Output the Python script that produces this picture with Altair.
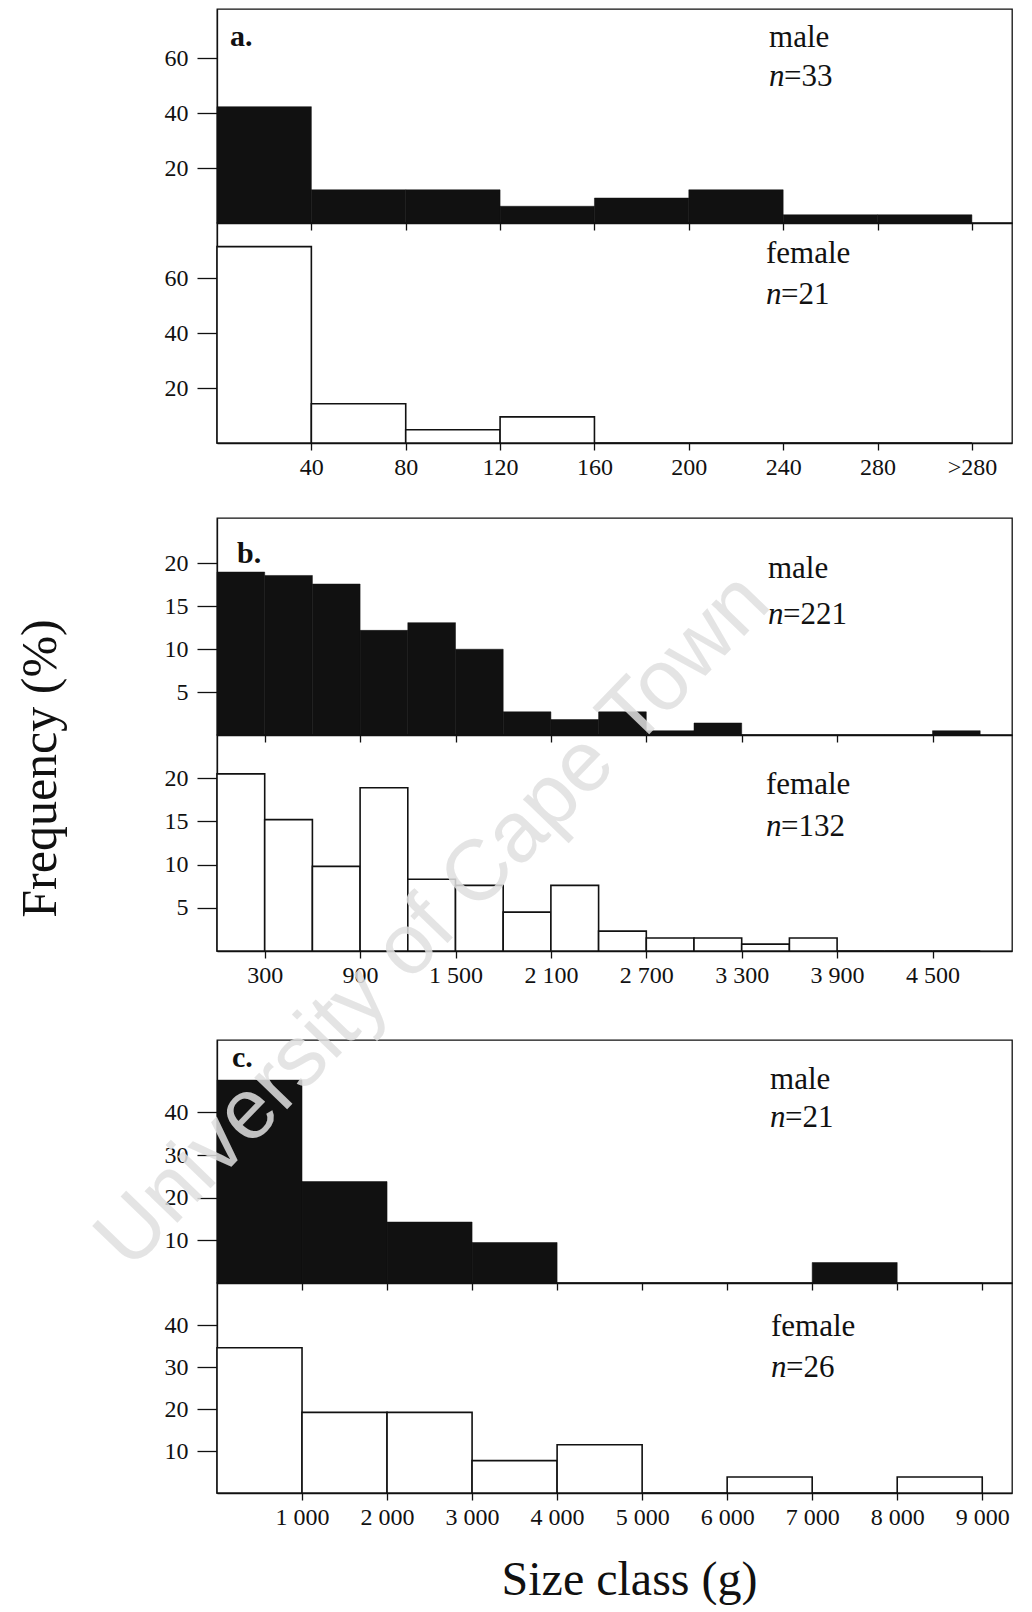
import altair as alt
import pandas as pd

FONT = "Liberation Serif"

# ---------------- data ----------------
# a.
a_edges = [0, 40, 80, 120, 160, 200, 240, 280, 320]
a_male = [42.4, 12.1, 12.1, 6.1, 9.1, 12.1, 3.0, 3.0]
a_female = [71.4, 14.3, 4.8, 9.5, 0, 0, 0, 0]
a_xticks = [40, 80, 120, 160, 200, 240, 280, 320]
a_xlabels = ["40", "80", "120", "160", "200", "240", "280", ">280"]
a_yticks = [20, 40, 60]
a_n = ["33", "21"]

# b.
b_edges = [0, 300, 600, 900, 1200, 1500, 1800, 2100, 2400, 2700, 3000, 3300,
           3600, 3900, 4200, 4500, 4800]
b_male = [19.0, 18.6, 17.6, 12.2, 13.1, 10.0, 2.7, 1.8, 2.7, 0.5, 1.4, 0, 0, 0, 0, 0.5]
b_female = [20.5, 15.2, 9.8, 18.9, 8.3, 7.6, 4.5, 7.6, 2.3, 1.5, 1.5, 0.8, 1.5, 0, 0, 0]
b_xticks = [300, 900, 1500, 2100, 2700, 3300, 3900, 4500]
b_xlabels = ["300", "900", "1 500", "2 100", "2 700", "3 300", "3 900", "4 500"]
b_yticks = [5, 10, 15, 20]
b_n = ["221", "132"]

# c.
c_edges = [0, 1000, 2000, 3000, 4000, 5000, 6000, 7000, 8000, 9000]
c_male = [47.6, 23.8, 14.3, 9.5, 0, 0, 0, 4.8, 0]
c_female = [34.6, 19.2, 19.2, 7.7, 11.5, 0, 3.8, 0, 3.8]
c_xticks = [1000, 2000, 3000, 4000, 5000, 6000, 7000, 8000, 9000]
c_xlabels = ["1 000", "2 000", "3 000", "4 000", "5 000", "6 000", "7 000", "8 000", "9 000"]
c_yticks = [10, 20, 30, 40]
c_n = ["21", "26"]

sexes = ["male", "female"]
letters = ["a.", "b.", "c."]
y_title = "Frequency (%)"
x_title = "Size class (g)"
watermark = "University of Cape Town"

# ---------------- layout (pixels / data units for annotations) ----------------
W = 795
GROUPS = [
    dict(edges=a_edges, vals=[a_male, a_female], xt=a_xticks, xl=a_xlabels, yt=a_yticks,
         n=a_n, xdom=[0, 337], ydom=[78, 80], h=[214, 220],
         letter=(5.5, 67.8), sexpos=[(234, 67.4, 53.2), (232.7, 68.7, 53.8)]),
    dict(edges=b_edges, vals=[b_male, b_female], xt=b_xticks, xl=b_xlabels, yt=b_yticks,
         n=b_n, xdom=[0, 5000], ydom=[25.3, 25], h=[217, 216],
         letter=(126, 21.1), sexpos=[(3465, 19.35, 14.0), (3453, 19.2, 14.3)]),
    dict(edges=c_edges, vals=[c_male, c_female], xt=c_xticks, xl=c_xlabels, yt=c_yticks,
         n=c_n, xdom=[0, 9350], ydom=[57, 50], h=[243, 210],
         letter=(176, 52.8), sexpos=[(6504, 47.6, 38.7), (6516, 39.5, 29.8)]),
]
GAPS = [75, 89]


def label_expr(vals, labels):
    expr = "''"
    for v, l in reversed(list(zip(vals, labels))):
        expr = f"datum.value == {v} ? '{l}' : ({expr})"
    return expr


def panel(gi, si):
    g = GROUPS[gi]
    edges = g["edges"]
    vals = g["vals"][si]
    df = pd.DataFrame({"start": edges[:-1], "end": edges[1:], "pct": vals})
    female = si == 1
    last = gi == 2 and female
    ytitle_here = gi == 1 and not female

    xaxis = alt.Axis(
        values=g["xt"], labels=female, labelExpr=label_expr(g["xt"], g["xl"]),
        ticks=True, tickSize=7, labelPadding=5, grid=False,
        title=x_title if last else None,
        titleFont=FONT, titleFontSize=48, titleFontWeight="normal",
        titlePadding=27, titleX=412, titleAlign="center",
    )
    if ytitle_here:
        yaxis = alt.Axis(values=g["yt"], tickSize=20, labelPadding=9, grid=False,
                         title=y_title, titleFont=FONT, titleFontSize=50,
                         titleFontWeight="normal", titleAngle=270, titleX=-177,
                         titleY=250, titleAlign="center", titleBaseline="middle")
    else:
        yaxis = alt.Axis(values=g["yt"], tickSize=20, labelPadding=9, grid=False, title=None)
    xs = alt.Scale(domain=g["xdom"], nice=False, zero=False)
    ys = alt.Scale(domain=[0, g["ydom"][si]], nice=False)

    if female:
        bars = alt.Chart(df).mark_bar(fill="white", stroke="#111", strokeWidth=1.6)
    else:
        bars = alt.Chart(df).mark_bar(fill="#111", stroke="#111", strokeWidth=0.5)
    bars = bars.encode(
        x=alt.X("start:Q", scale=xs, axis=xaxis),
        x2="end:Q",
        y=alt.Y("pct:Q", scale=ys, axis=yaxis),
        y2=alt.datum(0),
    )

    layers = [bars]
    sx, sy1, sy2 = g["sexpos"][si]
    txt_df = pd.DataFrame({"start": [sx], "pct": [sy1], "t": [sexes[si]]})
    layers.append(
        alt.Chart(txt_df).mark_text(align="left", baseline="middle", font=FONT,
                                    fontSize=31, color="#111")
        .encode(x=alt.X("start:Q", scale=xs), y=alt.Y("pct:Q", scale=ys), text="t:N")
    )
    n_df = pd.DataFrame({"start": [sx], "pct": [sy2], "t": ["n"]})
    layers.append(
        alt.Chart(n_df).mark_text(align="left", baseline="middle", font=FONT,
                                  fontSize=31, fontStyle="italic", color="#111")
        .encode(x=alt.X("start:Q", scale=xs), y=alt.Y("pct:Q", scale=ys), text="t:N")
    )
    eq_df = pd.DataFrame({"start": [sx], "pct": [sy2], "t": ["=" + g["n"][si]]})
    layers.append(
        alt.Chart(eq_df).mark_text(align="left", baseline="middle", font=FONT,
                                   fontSize=31, dx=15, color="#111")
        .encode(x=alt.X("start:Q", scale=xs), y=alt.Y("pct:Q", scale=ys), text="t:N")
    )
    if not female:
        lx, ly = g["letter"]
        let_df = pd.DataFrame({"start": [lx], "pct": [ly], "t": [letters[gi]]})
        layers.append(
            alt.Chart(let_df).mark_text(align="left", baseline="middle", font=FONT,
                                        fontSize=30, fontWeight="bold", color="#111")
            .encode(x=alt.X("start:Q", scale=xs), y=alt.Y("pct:Q", scale=ys), text="t:N")
        )
    if gi == 2 and not female:
        wm_df = pd.DataFrame({"start": [2540], "pct": [85.0], "t": [watermark]})
        layers.append(
            alt.Chart(wm_df).mark_text(align="center", baseline="middle",
                                       font="Liberation Sans", fontSize=86, angle=314,
                                       color="#e0e0e0", opacity=0.85)
            .encode(x=alt.X("start:Q", scale=xs), y=alt.Y("pct:Q", scale=ys), text="t:N")
        )
    return alt.layer(*layers).properties(width=W, height=g["h"][si])


def spacer(h):
    sdf = pd.DataFrame({"start": [0]})
    return (
        alt.Chart(sdf).mark_point(opacity=0)
        .encode(x=alt.X("start:Q", axis=None), y=alt.Y("start:Q", axis=None))
        .properties(width=W, height=h, view=alt.ViewBackground(stroke=None))
    )


charts = [
    panel(0, 0), panel(0, 1), spacer(GAPS[0]),
    panel(1, 0), panel(1, 1), spacer(GAPS[1]),
    panel(2, 0), panel(2, 1),
]

chart = (
    alt.vconcat(*charts, spacing=0, bounds="flush")
    .resolve_scale(x="independent", y="independent")
    .properties(padding={"left": 6, "top": 0, "right": 4, "bottom": 0})
    .configure_view(stroke="#111", strokeWidth=1.3)
    .configure_axis(
        domainColor="#111", tickColor="#111", labelColor="#111", titleColor="#111",
        labelFont=FONT, labelFontSize=24, domainWidth=1.3, tickWidth=1.3,
    )
)

chart.save("out.html", embed_options={"renderer": "svg", "actions": False})
